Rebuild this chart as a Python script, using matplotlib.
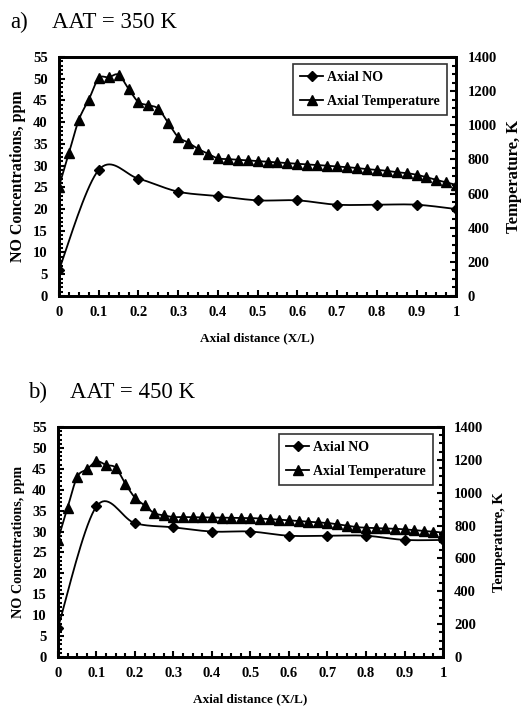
import numpy as np
import matplotlib
matplotlib.use("Agg")
import matplotlib.pyplot as plt
from matplotlib.ticker import MultipleLocator

plt.rcParams['font.family'] = ['Liberation Serif', 'DejaVu Serif']

# Data
no_x = [0, 0.1, 0.2, 0.3, 0.4, 0.5, 0.6, 0.7, 0.8, 0.9, 1.0]
no_350 = [6, 29, 27, 24, 23, 22, 22, 21, 21, 21, 20]
no_450 = [7, 36, 32, 31, 30, 30, 29, 29, 29, 28, 28]

temp_x = [i * 0.025 for i in range(41)]
temp_350 = [641, 837, 1032, 1150, 1275, 1281, 1296, 1214, 1136, 1118,
            1097, 1013, 931, 899, 862, 833, 806, 802, 798, 794,
            790, 786, 782, 778, 774, 770, 767, 763, 759, 755,
            749, 743, 739, 733, 725, 720, 710, 696, 680, 665, 651]
temp_450 = [714, 909, 1096, 1142, 1191, 1169, 1152, 1055, 970, 923,
            876, 862, 852, 852, 851, 850, 850, 849, 848, 847,
            846, 843, 840, 836, 832, 828, 824, 820, 816, 808,
            800, 791, 787, 785, 783, 781, 777, 773, 767, 763, 757]

# (tag, label, NO, T, axes rect, title x, title baseline, legend anchor, left/right label size)
panels = [
    ("a)", "AAT = 350 K", no_350, temp_350, [0.113, 0.582, 0.761, 0.3375],
     0.019, 0.9605, (0.977, 0.971), 11.5, 12),
    ("b)", "AAT = 450 K", no_450, temp_450, [0.111, 0.072, 0.7377, 0.3249],
     0.054, 0.4379, (0.974, 0.970), 10.2, 10.5),
]


def smooth(x, y, n=20):
    # Excel-like smoothed line: cubic Bezier segments (Catmull-Rom)
    x = np.asarray(x, float)
    y = np.asarray(y, float)
    px = np.concatenate([[x[0]], x, [x[-1]]])
    py = np.concatenate([[y[0]], y, [y[-1]]])
    t = np.linspace(0, 1, n)
    xs, ys = [], []
    for i in range(1, len(px) - 2):
        p0 = np.array([px[i], py[i]])
        p3 = np.array([px[i + 1], py[i + 1]])
        c1 = p0 + (np.array([px[i + 1], py[i + 1]]) - np.array([px[i - 1], py[i - 1]])) / 6
        c2 = p3 - (np.array([px[i + 2], py[i + 2]]) - np.array([px[i], py[i]])) / 6
        b = ((1 - t) ** 3)[:, None] * p0 + (3 * (1 - t) ** 2 * t)[:, None] * c1 \
            + (3 * (1 - t) * t ** 2)[:, None] * c2 + (t ** 3)[:, None] * p3
        xs.extend(b[:, 0])
        ys.extend(b[:, 1])
    return xs, ys


fig = plt.figure(figsize=(5.22, 7.08), dpi=100)

for tag, title, no, temp, rect, tx0, ty, anchor, lsize, rsize in panels:
    ax = fig.add_axes(rect)
    ax2 = ax.twinx()

    sx, sy = smooth(no_x, no)
    ax.plot(sx, sy, color='black', lw=1.3)
    ax.plot(no_x, no, linestyle='none', marker='D', ms=5, color='black')
    tx, tyv = smooth(temp_x, temp)
    ax2.plot(tx, tyv, color='black', lw=1.3)
    ax2.plot(temp_x, temp, linestyle='none', marker='^', ms=6.5, color='black')

    ax.set_xlim(0, 1)
    ax.set_ylim(0, 55)
    ax2.set_ylim(0, 1400)

    ax.xaxis.set_major_locator(MultipleLocator(0.1))
    ax.xaxis.set_minor_locator(MultipleLocator(0.025))
    ax.yaxis.set_major_locator(MultipleLocator(5))
    ax.yaxis.set_minor_locator(MultipleLocator(1))
    ax2.yaxis.set_major_locator(MultipleLocator(200))
    ax2.yaxis.set_minor_locator(MultipleLocator(50))

    ax.xaxis.set_major_formatter(plt.FuncFormatter(lambda v, p: '%g' % round(v, 2)))

    for a in (ax, ax2):
        for s in a.spines.values():
            s.set_linewidth(2)
        a.tick_params(which='both', direction='in', width=1.5, labelsize=10.5, pad=8)
        a.tick_params(which='major', length=4)
        a.tick_params(which='minor', length=3)
        for lab in a.get_xticklabels() + a.get_yticklabels():
            lab.set_fontweight('bold')
    ax.tick_params(axis='x', pad=7)
    ax.tick_params(axis='y', right=False, which='both')

    ax.set_xlabel("Axial distance (X/L)", fontsize=9.5, fontweight='bold', labelpad=10)
    ax.set_ylabel("NO Concentrations, ppm", fontsize=lsize, fontweight='bold', labelpad=5)
    ax2.set_ylabel("Temperature, K", fontsize=rsize, fontweight='bold', labelpad=7)

    h1, = ax.plot([], [], color='black', lw=1.3, marker='D', ms=5)
    h2, = ax.plot([], [], color='black', lw=1.3, marker='^', ms=6.5)
    leg = ax2.legend([h1, h2], ["Axial NO", "Axial Temperature"], loc='upper right',
                     bbox_to_anchor=anchor, borderaxespad=0, frameon=True, fancybox=False,
                     edgecolor='black', handlelength=1.65, handletextpad=0.3,
                     borderpad=0.5, labelspacing=0.8,
                     prop={'weight': 'bold', 'size': 10})
    leg.get_frame().set_linewidth(1.2)

    fig.text(tx0, ty, tag, fontsize=16.5, ha='left', va='baseline')
    fig.text(tx0 + 0.081, ty, title, fontsize=16.5, ha='left', va='baseline')

fig.savefig("out.png", dpi=100)
